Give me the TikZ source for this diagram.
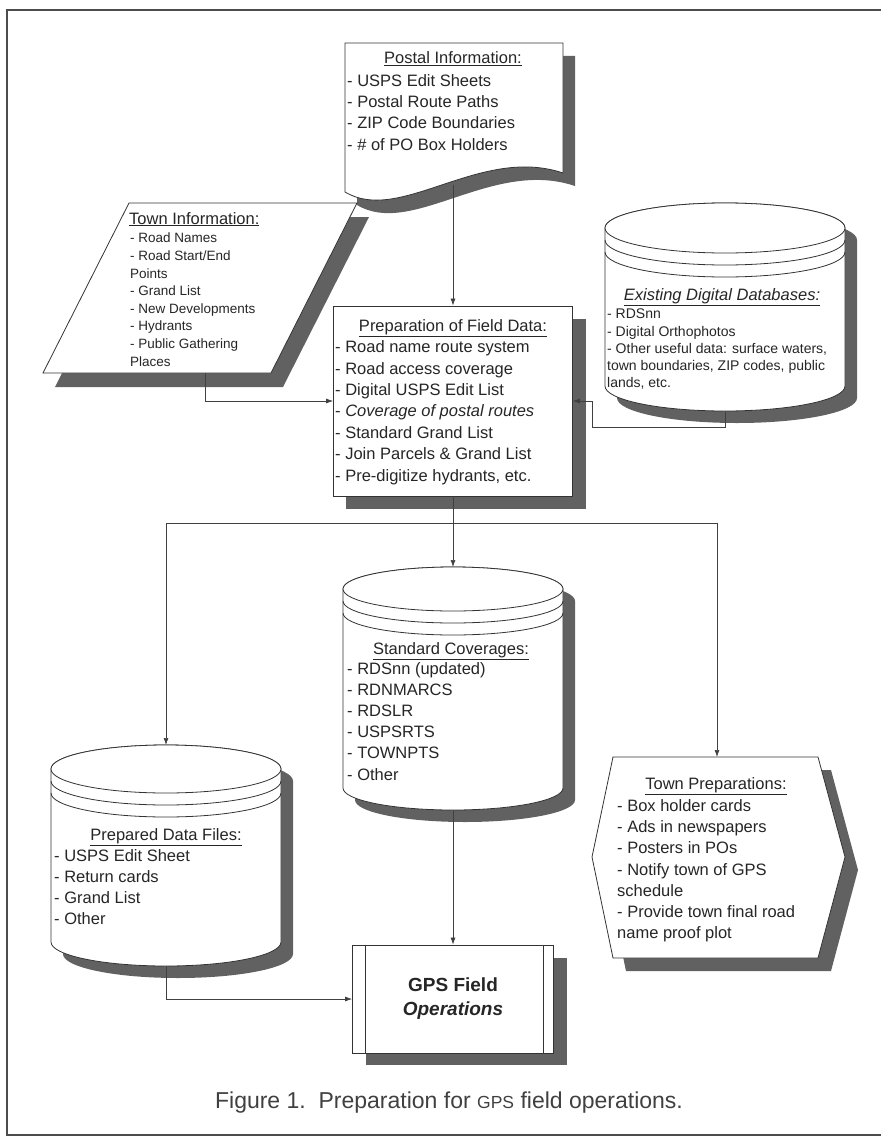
\documentclass[tikz,border=0pt]{standalone}
\usepackage{fontspec}
\setmainfont{Liberation Sans}
\usepackage{tikz}
\usetikzlibrary{calc,arrows.meta}
\def\dbshape(#1,#2)(#3:#4:#5){%
	\fill[shadowfill] (#1-#3+12,#2+12) -- (#1-#3+12,#5+12) arc[start angle=180,end angle=0,x radius=#3,y radius=#4] -- (#1+#3+12,#2+12) arc[start angle=0,end angle=-180,x radius=#3,y radius=#4] -- cycle;
	\draw[shapeline] (#1-#3,#2) -- (#1-#3,#5) arc[start angle=180,end angle=0,x radius=#3,y radius=#4] -- (#1+#3,#2) arc[start angle=0,end angle=-180,x radius=#3,y radius=#4] -- cycle;
	\draw[shapeline] (#1,#2) ellipse[x radius=#3,y radius=#4];
	\draw[shapeline,fill=none] (#1-#3,#2+12) arc[start angle=180,end angle=0,x radius=#3,y radius=#4];
	\draw[shapeline,fill=none] (#1-#3,#2+24) arc[start angle=180,end angle=0,x radius=#3,y radius=#4];
}
\tikzset{
	shapeline/.style={draw=black!80, line width=0.8pt, fill=white},
	shadowfill/.style={fill=black!62},
	conn/.style={draw=black!75, line width=0.7pt, -{Latex[length=7pt,width=5pt]}},
	connline/.style={draw=black!75, line width=0.7pt},
	outerframe/.style={draw=black!70, line width=1.6pt},
	titletxt/.style={font=\fontsize{16.5}{20}\selectfont, text=black!85, inner sep=0pt, anchor=base},
	listtxt/.style={font=\fontsize{16.5}{21.3}\selectfont, text=black!85, inner sep=0pt, anchor=north west, align=left},
	smalltxt/.style={font=\fontsize{13.5}{17.6}\selectfont},
	captxt/.style={font=\fontsize{23}{23}\selectfont, text=black!75, inner sep=0pt}
}

\begin{document}
\begin{tikzpicture}[x=1pt,y=-1pt]
			%%%%% START %%%%%
			\useasboundingbox (0,0) rectangle (881,1137);
			\draw[outerframe] (881,10) -- (7,10) -- (7,1135) -- (881,1135);
			
			% postal information
			\fill[shadowfill] (357,56) -- (575,56) -- (575,186) .. controls (492,158) and (412,238) .. (357,205) -- cycle;
			\draw[shapeline] (345,43) -- (563,43) -- (563,173) .. controls (480,145) and (400,225) .. (345,192) -- cycle;
			\node[titletxt] (postal title) at (453,64) {\underline{Postal Information:}};
			\node[listtxt] (postal) at (347,74) {- USPS Edit Sheets\\- Postal Route Paths\\- ZIP Code Boundaries\\- \# of PO Box Holders};
			\coordinate (postal wave) at (453,185);
			
			% town information
			\fill[shadowfill] (141,217) -- (369,217) -- (283,387) -- (55,387) -- cycle;
			\draw[shapeline] (129,203) -- (357,203) -- (271,373) -- (43,373) -- cycle;
			\node[titletxt, anchor=base west] (town title) at (129,224) {\underline{Town Information:}};
			\node[listtxt, smalltxt] (town) at (130,233) {- Road Names\\- Road Start/End\\Points\\- Grand List\\- New Developments\\- Hydrants\\- Public Gathering\\Places};
			\coordinate (town foot) at (205,373);
			
			% preparation of field data
			\fill[shadowfill] (346,319) rectangle (586,509);
			\node[shapeline, minimum width=239, minimum height=190, inner sep=0pt] (prep) at (453,401) {};
			\node[titletxt] (prep title) at (453,331) {\underline{Preparation of Field Data:}};
			\node[listtxt, font=\fontsize{16.5}{21.4}\selectfont] (prep list) at (335,340.5) {- Road name route system\\- Road access coverage\\- Digital USPS Edit List\\- \textit{Coverage of postal routes}\\- Standard Grand List\\- Join Parcels \& Grand List\\- Pre-digitize hydrants, etc.};
			
			% existing digital databases
			\dbshape(725,228)(120:25:386)
			\node[titletxt, font=\fontsize{16.5}{20}\selectfont\itshape] (exist title) at (722,300) {\underline{Existing Digital Databases:}};
			\node[listtxt, font=\fontsize{14}{17.2}\selectfont] (exist) at (607,309) {- RDSnn\\- Digital Orthophotos\\- Other useful data: surface waters,\\town boundaries, ZIP codes, public\\lands, etc.};
			\coordinate (exist foot) at (725,411);
			
			% standard coverages
			\dbshape(453,589)(110:22:788)
			\node[titletxt] (stdcov title) at (451,654) {\underline{Standard Coverages:}};
			\node[listtxt, font=\fontsize{16.5}{21.2}\selectfont] (stdcov) at (347,662) {- RDSnn (updated)\\- RDNMARCS\\- RDSLR\\- USPSRTS\\- TOWNPTS\\- Other};
			\coordinate (stdcov top) at (453,567);
			\coordinate (stdcov foot) at (453,810);
			
			% prepared data files
			\dbshape(166,769)(115:24:942)
			\node[titletxt] (files title) at (166,840) {\underline{Prepared Data Files:}};
			\node[listtxt, font=\fontsize{16.5}{21}\selectfont] (files) at (54,849) {- USPS Edit Sheet\\- Return cards\\- Grand List\\- Other};
			\coordinate (files top) at (166,745);
			\coordinate (files foot) at (166,966);
			
			% town preparations
			\fill[shadowfill] (626,770) -- (831,770) -- (858,870) -- (831,971) -- (626,971) -- (605,870) -- cycle;
			\draw[shapeline] (613,757) -- (818,757) -- (845,857) -- (818,958) -- (613,958) -- (592,857) -- cycle;
			\node[titletxt] (tprep title) at (716,789) {\underline{Town Preparations:}};
			\node[listtxt] (tprep) at (617,799) {- Box holder cards\\- Ads in newspapers\\- Posters in POs\\- Notify town of GPS\\schedule\\- Provide town final road\\name proof plot};
			\coordinate (tprep top) at (717,757);
			
			% gps field operations
			\fill[shadowfill] (366,958) rectangle (567,1065);
			\node[shapeline, minimum width=201, minimum height=108, inner sep=0pt, align=center, text=black!85, font=\fontsize{19}{24}\selectfont\bfseries] (gps) at (453,999) {GPS Field\\\textit{Operations}};
			\draw[shapeline] ($(gps.north west)+(13,0)$) -- ($(gps.south west)+(13,0)$);
			\draw[shapeline] ($(gps.north east)+(-11,0)$) -- ($(gps.south east)+(-11,0)$);
			
			% connectors
			\draw[conn] (postal wave) -- (prep.north);
			\draw[conn] (town foot) |- (prep.west);
			\draw[conn] (exist foot) -- ++(0,16) -| ($(prep.east)+(19,0)$) -- (prep.east);
			\coordinate (split) at (453,523);
			\draw[connline] (prep.south) -- (split);
			\draw[conn] (split) -- (stdcov top);
			\draw[conn] (split) -| (files top);
			\draw[conn] (split) -| (tprep top);
			\draw[conn] (stdcov foot) -- (gps.north);
			\draw[conn] (files foot) |- (gps.west);
			
			\node[captxt] (caption) at (449,1103) {Figure 1.\ \ Preparation for {\fontsize{17.5}{17.5}\selectfont GPS} field operations.};
			
			%%%%% END %%%%%
\end{tikzpicture}
\end{document}
